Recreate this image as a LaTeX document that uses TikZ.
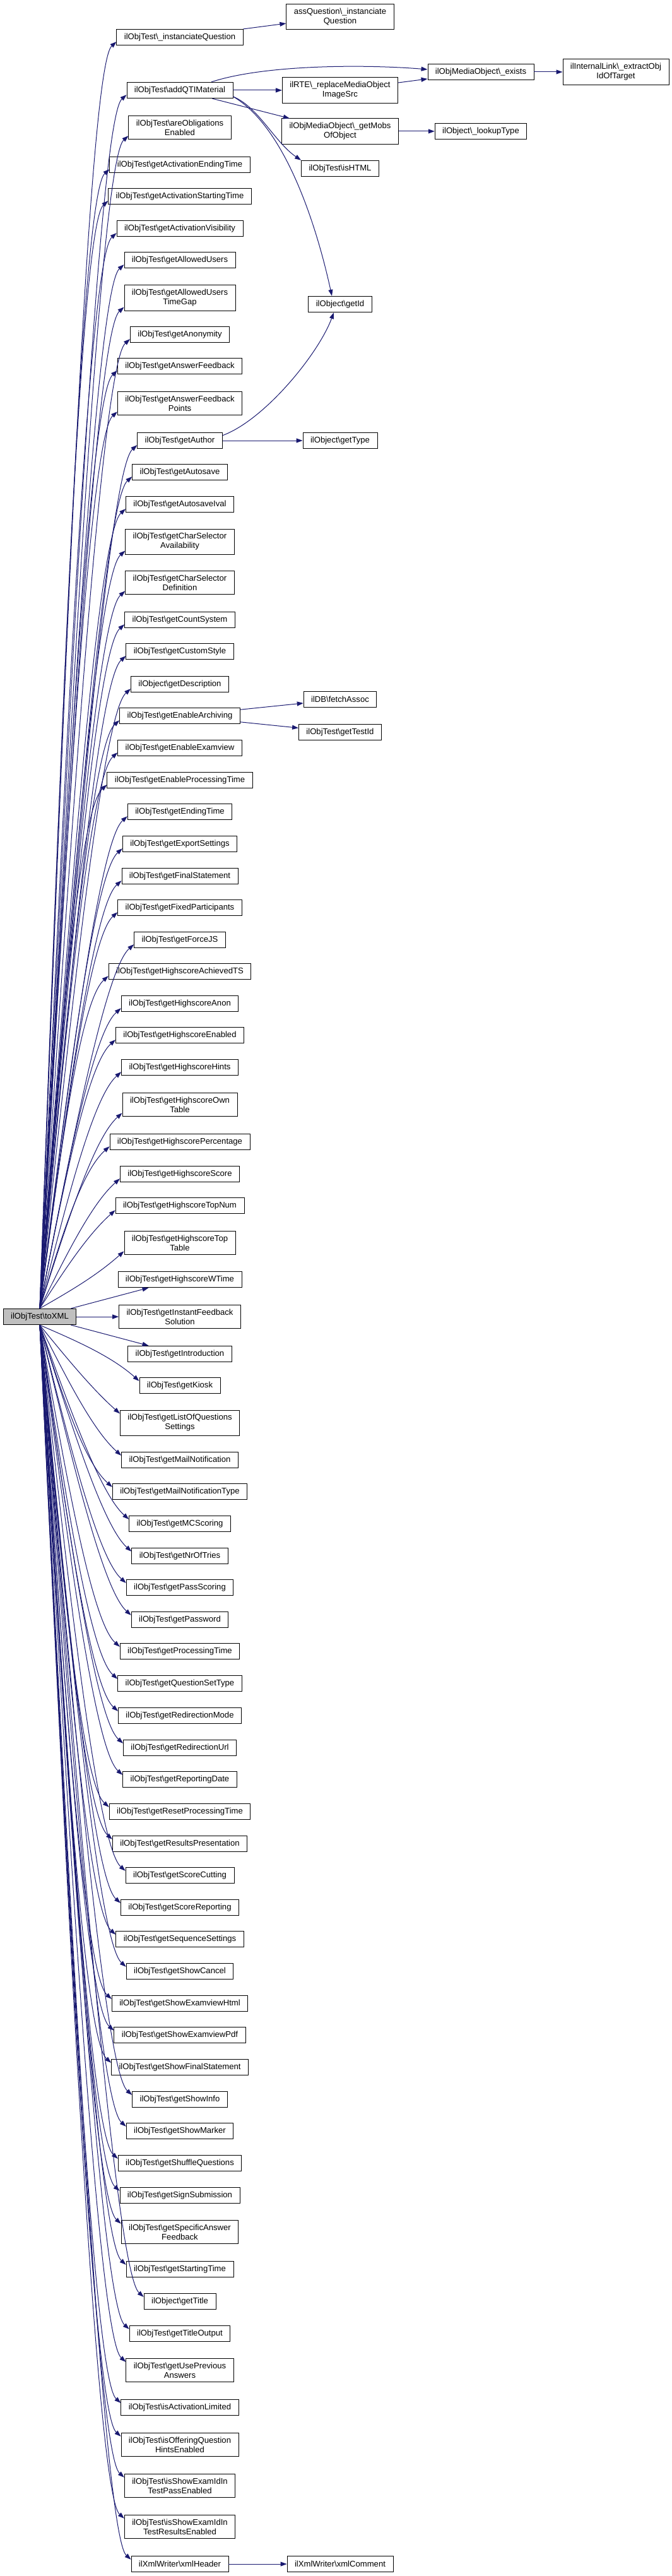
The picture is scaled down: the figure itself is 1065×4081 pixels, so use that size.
\documentclass[tikz,border=0pt]{standalone}
\usepackage{fontspec}
\setmainfont{Liberation Sans}
\usepackage{xcolor}
\usepackage{tikz}
\usetikzlibrary{arrows.meta,calc}

\definecolor{edgeblue}{HTML}{191970}
\definecolor{rootgray}{HTML}{BFBFBF}
\newcommand{\nsep}{\textbackslash}

\begin{document}
\begin{tikzpicture}[x=1pt,y=-1pt,>={Stealth[inset=0pt,length=10pt,width=7pt]},
    fn/.style={draw=black, line width=0.8pt, fill=white, align=center,
        inner xsep=12pt, inner ysep=6.5pt, minimum height=25.5pt,
        font=\fontsize{13.1pt}{15pt}\selectfont},
    call/.style={->, draw=edgeblue, line width=1pt}]

\useasboundingbox (0,0) rectangle (1065,4081);

% --------------------------------------------------
% Caller
% --------------------------------------------------
\node[fn, fill=rootgray] (root) at (63,2086) {ilObjTest\nsep toXML};

% --------------------------------------------------
% Called functions (first level)
% --------------------------------------------------
\node[fn] (instq)       at (285,59)   {ilObjTest\nsep\_instanciateQuestion};
\node[fn] (addqti)      at (285,143)  {ilObjTest\nsep addQTIMaterial};
\node[fn] (areoblig)    at (285,202)  {ilObjTest\nsep areObligations\\Enabled};
\node[fn] (actend)      at (285,261)  {ilObjTest\nsep getActivationEndingTime};
\node[fn] (actstart)    at (285,311)  {ilObjTest\nsep getActivationStartingTime};
\node[fn] (actvis)      at (285,362)  {ilObjTest\nsep getActivationVisibility};
\node[fn] (allowed)     at (285,412)  {ilObjTest\nsep getAllowedUsers};
\node[fn] (allowedgap)  at (285,472)  {ilObjTest\nsep getAllowedUsers\\TimeGap};
\node[fn] (anonym)      at (285,530)  {ilObjTest\nsep getAnonymity};
\node[fn] (ansfb)       at (285,580)  {ilObjTest\nsep getAnswerFeedback};
\node[fn] (ansfbpts)    at (285,639)  {ilObjTest\nsep getAnswerFeedback\\Points};
\node[fn] (author)      at (285,698)  {ilObjTest\nsep getAuthor};
\node[fn] (autosave)    at (285,748)  {ilObjTest\nsep getAutosave};
\node[fn] (autoival)    at (285,799)  {ilObjTest\nsep getAutosaveIval};
\node[fn] (charavail)   at (285,858)  {ilObjTest\nsep getCharSelector\\Availability};
\node[fn] (chardef)     at (285,923)  {ilObjTest\nsep getCharSelector\\Definition};
\node[fn] (countsys)    at (285,982)  {ilObjTest\nsep getCountSystem};
\node[fn] (customstyle) at (285,1032) {ilObjTest\nsep getCustomStyle};
\node[fn] (descr)       at (285,1084) {ilObject\nsep getDescription};
\node[fn] (archiving)   at (285,1134) {ilObjTest\nsep getEnableArchiving};
\node[fn] (examview)    at (285,1185) {ilObjTest\nsep getEnableExamview};
\node[fn] (enproc)      at (285,1236) {ilObjTest\nsep getEnableProcessingTime};
\node[fn] (endtime)     at (285,1286) {ilObjTest\nsep getEndingTime};
\node[fn] (exportset)   at (285,1337) {ilObjTest\nsep getExportSettings};
\node[fn] (finalstmt)   at (285,1388) {ilObjTest\nsep getFinalStatement};
\node[fn] (fixedpart)   at (285,1438) {ilObjTest\nsep getFixedParticipants};
\node[fn] (forcejs)     at (285,1489) {ilObjTest\nsep getForceJS};
\node[fn] (hsachieved)  at (285,1539) {ilObjTest\nsep getHighscoreAchievedTS};
\node[fn] (hsanon)      at (285,1590) {ilObjTest\nsep getHighscoreAnon};
\node[fn] (hsenabled)   at (285,1640) {ilObjTest\nsep getHighscoreEnabled};
\node[fn] (hshints)     at (285,1691) {ilObjTest\nsep getHighscoreHints};
\node[fn] (hsown)       at (285,1750) {ilObjTest\nsep getHighscoreOwn\\Table};
\node[fn] (hsperc)      at (285,1809) {ilObjTest\nsep getHighscorePercentage};
\node[fn] (hsscore)     at (285,1860) {ilObjTest\nsep getHighscoreScore};
\node[fn] (hstopnum)    at (285,1910) {ilObjTest\nsep getHighscoreTopNum};
\node[fn] (hstoptable)  at (285,1969) {ilObjTest\nsep getHighscoreTop\\Table};
\node[fn] (hswtime)     at (285,2027) {ilObjTest\nsep getHighscoreWTime};
\node[fn] (instantfb)   at (285,2086) {ilObjTest\nsep getInstantFeedback\\Solution};
\node[fn] (intro)       at (285,2145) {ilObjTest\nsep getIntroduction};
\node[fn] (kiosk)       at (285,2195) {ilObjTest\nsep getKiosk};
\node[fn] (listofq)     at (285,2254) {ilObjTest\nsep getListOfQuestions\\Settings};
\node[fn] (mailnotif)   at (285,2313) {ilObjTest\nsep getMailNotification};
\node[fn] (mailtype)    at (285,2363) {ilObjTest\nsep getMailNotificationType};
\node[fn] (mcscoring)   at (285,2414) {ilObjTest\nsep getMCScoring};
\node[fn] (nroftries)   at (285,2465) {ilObjTest\nsep getNrOfTries};
\node[fn] (passscoring) at (285,2515) {ilObjTest\nsep getPassScoring};
\node[fn] (password)    at (285,2566) {ilObjTest\nsep getPassword};
\node[fn] (proctime)    at (285,2616) {ilObjTest\nsep getProcessingTime};
\node[fn] (qsettype)    at (285,2667) {ilObjTest\nsep getQuestionSetType};
\node[fn] (redirmode)   at (285,2718) {ilObjTest\nsep getRedirectionMode};
\node[fn] (redirurl)    at (285,2769) {ilObjTest\nsep getRedirectionUrl};
\node[fn] (repdate)     at (285,2819) {ilObjTest\nsep getReportingDate};
\node[fn] (resetproc)   at (285,2870) {ilObjTest\nsep getResetProcessingTime};
\node[fn] (resultspres) at (285,2921) {ilObjTest\nsep getResultsPresentation};
\node[fn] (scorecut)    at (285,2971) {ilObjTest\nsep getScoreCutting};
\node[fn] (scorerep)    at (285,3022) {ilObjTest\nsep getScoreReporting};
\node[fn] (seqset)      at (285,3072) {ilObjTest\nsep getSequenceSettings};
\node[fn] (showcancel)  at (285,3123) {ilObjTest\nsep getShowCancel};
\node[fn] (showexhtml)  at (285,3174) {ilObjTest\nsep getShowExamviewHtml};
\node[fn] (showexpdf)   at (285,3224) {ilObjTest\nsep getShowExamviewPdf};
\node[fn] (showfinal)   at (285,3275) {ilObjTest\nsep getShowFinalStatement};
\node[fn] (showinfo)    at (285,3326) {ilObjTest\nsep getShowInfo};
\node[fn] (showmarker)  at (285,3376) {ilObjTest\nsep getShowMarker};
\node[fn] (shuffle)     at (285,3427) {ilObjTest\nsep getShuffleQuestions};
\node[fn] (signsub)     at (285,3478) {ilObjTest\nsep getSignSubmission};
\node[fn] (specans)     at (285,3536) {ilObjTest\nsep getSpecificAnswer\\Feedback};
\node[fn] (starttime)   at (285,3595) {ilObjTest\nsep getStartingTime};
\node[fn] (title)       at (285,3646) {ilObject\nsep getTitle};
\node[fn] (titleout)    at (285,3697) {ilObjTest\nsep getTitleOutput};
\node[fn] (useprev)     at (285,3755) {ilObjTest\nsep getUsePrevious\\Answers};
\node[fn] (actlimited)  at (285,3814) {ilObjTest\nsep isActivationLimited};
\node[fn] (offerhints)  at (285,3873) {ilObjTest\nsep isOfferingQuestion\\HintsEnabled};
\node[fn] (examidpass)  at (285,3938) {ilObjTest\nsep isShowExamIdIn\\TestPassEnabled};
\node[fn] (examidres)   at (285,4003) {ilObjTest\nsep isShowExamIdIn\\TestResultsEnabled};
\node[fn] (xmlheader)   at (285,4062) {ilXmlWriter\nsep xmlHeader};

% --------------------------------------------------
% Second and third level
% --------------------------------------------------
\node[fn] (assq)       at (539,26)   {assQuestion\nsep\_instanciate\\Question};
\node[fn] (rte)        at (539,143)  {ilRTE\nsep\_replaceMediaObject\\ImageSrc};
\node[fn] (mobs)       at (539,208)  {ilObjMediaObject\nsep\_getMobs\\OfObject};
\node[fn] (ishtml)     at (539,267)  {ilObjTest\nsep isHTML};
\node[fn] (getid)      at (539,482)  {ilObject\nsep getId};
\node[fn] (gettype)    at (539,698)  {ilObject\nsep getType};
\node[fn] (fetchassoc) at (539,1108) {ilDB\nsep fetchAssoc};
\node[fn] (testid)     at (539,1160) {ilObjTest\nsep getTestId};
\node[fn] (xmlcomment) at (539,4062) {ilXmlWriter\nsep xmlComment};
\node[fn] (exists)     at (762,114)  {ilObjMediaObject\nsep\_exists};
\node[fn] (lookup)     at (762,208)  {ilObject\nsep\_lookupType};
\node[fn] (intlink)    at (976,114)  {ilInternalLink\nsep\_extractObj\\IdOfTarget};

% --------------------------------------------------
% Calls from toXML
% --------------------------------------------------
\foreach \nd in {instq,addqti,areoblig,actend,actstart,actvis,allowed,allowedgap,
    anonym,ansfb,ansfbpts,author,autosave,autoival,charavail,chardef,countsys,
    customstyle,descr,archiving,examview,enproc,endtime,exportset,finalstmt,
    fixedpart,forcejs,hsachieved,hsanon,hsenabled,hshints,hsown,hsperc,hsscore,
    hstopnum,hstoptable}
    \draw[call] let \p1=(root.north), \p2=($(\nd.south west)+(0,-6)$) in
        (\p1) .. controls ({0.5*(\x1+\x2-45pt)},{0.5*(\y1+\y2-40pt)})
        and ({\x2-45pt},{\y2-40pt}) .. (\p2);

\draw[call] (root) -- (hswtime);
\draw[call] (root) -- (instantfb);
\draw[call] (root) -- (intro);

\foreach \nd in {kiosk,listofq,mailnotif,mailtype,mcscoring,nroftries,passscoring,
    password,proctime,qsettype,redirmode,redirurl,repdate,resetproc,resultspres,
    scorecut,scorerep,seqset,showcancel,showexhtml,showexpdf,showfinal,showinfo,
    showmarker,shuffle,signsub,specans,starttime,title,titleout,useprev,
    actlimited,offerhints,examidpass,examidres,xmlheader}
    \draw[call] let \p1=(root.south), \p2=($(\nd.north west)+(0,6)$) in
        (\p1) .. controls ({0.5*(\x1+\x2-45pt)},{0.5*(\y1+\y2+40pt)})
        and ({\x2-45pt},{\y2+40pt}) .. (\p2);

% --------------------------------------------------
% Further calls
% --------------------------------------------------
\draw[call] (instq) -- (assq);
\draw[call] ($(addqti.north)+(50,0)$) .. controls (420,102) and (580,102) .. ($(exists.west)+(0,-4)$);
\draw[call] (addqti) -- (rte);
\draw[call] (rte) -- (exists);
\draw[call] (exists) -- (intlink);
\draw[call] (addqti) -- (mobs);
\draw[call] (mobs) -- (lookup);
\draw[call] ($(addqti.east)+(0,10)$) .. controls (410,170) and (435,225) .. (ishtml.north west);
\draw[call] ($(addqti.east)+(0,10)$) .. controls (450,200) and (500,350) .. ($(getid.north)+(-13,0)$);
\draw[call] ($(author.north east)+(0,5)$) .. controls (420,665) and (505,560) .. ($(getid.south)+(-10,0)$);
\draw[call] (author) -- (gettype);
\draw[call] (archiving) -- (fetchassoc);
\draw[call] (archiving) -- (testid);
\draw[call] (xmlheader) -- (xmlcomment);

\end{tikzpicture}
\end{document}
